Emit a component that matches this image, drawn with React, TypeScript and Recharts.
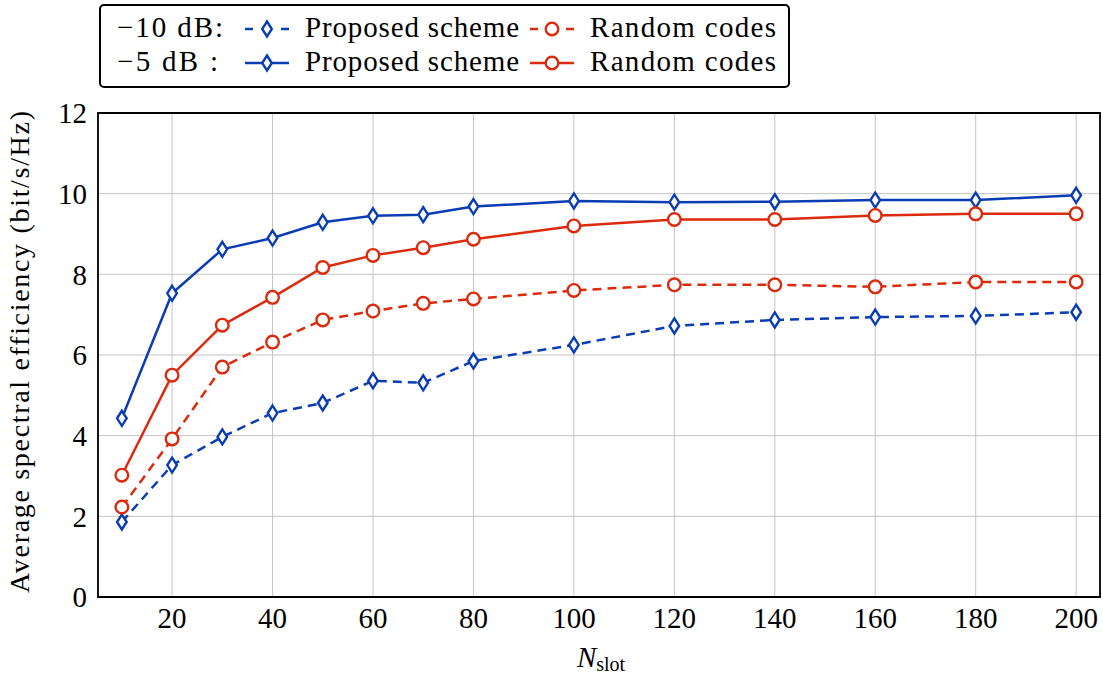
import React from "react";
import { LineChart, Line, XAxis, YAxis, CartesianGrid, ReferenceArea } from "recharts";

const nSlot = [10, 20, 30, 40, 50, 60, 70, 80, 100, 120, 140, 160, 180, 200];
const proposedM10 = [1.86, 3.27, 3.97, 4.56, 4.81, 5.36, 5.31, 5.85, 6.25, 6.72, 6.87, 6.94, 6.97, 7.06];
const randomM10 = [2.23, 3.92, 5.7, 6.32, 6.87, 7.09, 7.28, 7.39, 7.6, 7.74, 7.74, 7.69, 7.81, 7.81];
const proposedM5 = [4.43, 7.53, 8.62, 8.9, 9.29, 9.45, 9.48, 9.68, 9.82, 9.79, 9.8, 9.84, 9.84, 9.96];
const randomM5 = [3.02, 5.5, 6.74, 7.43, 8.17, 8.47, 8.66, 8.87, 9.2, 9.36, 9.36, 9.46, 9.5, 9.5];
const xTicks = [20, 40, 60, 80, 100, 120, 140, 160, 180, 200];
const yTicks = [0, 2, 4, 6, 8, 10, 12];

const data = nSlot.map((n, i) => ({
  n,
  pM10: proposedM10[i],
  rM10: randomM10[i],
  pM5: proposedM5[i],
  rM5: randomM5[i],
}));

const BLUE = "#0a3cb4";
const RED = "#dc2a0c";
const FONT = "'Liberation Serif', 'Times New Roman', serif";

const Diamond = (props: any) => {
  const { cx, cy, stroke } = props;
  if (cx == null || cy == null) return null;
  return (
    <path
      d={`M${cx},${cy - 7.5} L${cx + 4.8},${cy} L${cx},${cy + 7.5} L${cx - 4.8},${cy} Z`}
      fill="#fff"
      stroke={stroke}
      strokeWidth={2.4}
      strokeDasharray="none"
    />
  );
};

const Circ = (props: any) => {
  const { cx, cy, stroke } = props;
  if (cx == null || cy == null) return null;
  return <circle cx={cx} cy={cy} r={6.3} fill="#fff" stroke={stroke} strokeWidth={2.4} strokeDasharray="none" />;
};

const LegendSample = ({ x, y, color, dashed, marker }: any) => {
  const len = 44;
  return (
    <g>
      {dashed ? (
        <>
          <line x1={x} y1={y} x2={x + 8} y2={y} stroke={color} strokeWidth={2.5} />
          <line x1={x + len - 8} y1={y} x2={x + len} y2={y} stroke={color} strokeWidth={2.5} />
        </>
      ) : (
        <line x1={x} y1={y} x2={x + len} y2={y} stroke={color} strokeWidth={2.5} />
      )}
      {marker === "d" ? (
        <Diamond cx={x + len / 2} cy={y} stroke={color} />
      ) : (
        <Circ cx={x + len / 2} cy={y} stroke={color} />
      )}
    </g>
  );
};

export default function App() {
  const fs = 29;
  return (
    <div style={{ position: "absolute", left: 0, top: 0, width: 1103, height: 675, background: "#fff" }}>
      <LineChart
        width={1103}
        height={675}
        data={data}
        margin={{ top: 113, right: 3, bottom: 0, left: 0 }}
      >
        <CartesianGrid stroke="#c4c4c4" strokeWidth={1} />
        <XAxis
          dataKey="n"
          type="number"
          domain={[5.25, 204.75]}
          ticks={xTicks}
          allowDataOverflow
          height={78}
          axisLine={false}
          tickLine={false}
          tickMargin={4}
          tick={{ fill: "#000", fontFamily: FONT, fontSize: 29 }}
        />
        <YAxis
          type="number"
          domain={[0, 12]}
          ticks={yTicks}
          width={98}
          axisLine={false}
          tickLine={false}
          tickMargin={5}
          tick={{ fill: "#000", fontFamily: FONT, fontSize: 29 }}
        />
        <Line dataKey="pM10" stroke={BLUE} strokeWidth={2.5} strokeDasharray="9 6" dot={<Diamond />} isAnimationActive={false} />
        <Line dataKey="rM10" stroke={RED} strokeWidth={2.5} strokeDasharray="9 6" dot={<Circ />} isAnimationActive={false} />
        <Line dataKey="pM5" stroke={BLUE} strokeWidth={2.5} dot={<Diamond />} isAnimationActive={false} />
        <Line dataKey="rM5" stroke={RED} strokeWidth={2.5} dot={<Circ />} isAnimationActive={false} />
        <ReferenceArea x1={5.25} x2={204.75} y1={0} y2={12} fill="none" stroke="#000" strokeWidth={1.8} ifOverflow="visible" />
      </LineChart>
      <svg width={1103} height={675} style={{ position: "absolute", left: 0, top: 0, pointerEvents: "none" }}>
        <text
          transform="translate(29,352) rotate(-90)"
          textAnchor="middle"
          fontFamily={FONT}
          fontSize={28}
          fill="#000"
          textLength={482}
          lengthAdjust="spacing"
        >
          Average spectral efficiency (bit/s/Hz)
        </text>
        <text x={601} y={667} textAnchor="middle" fontFamily={FONT} fill="#000">
          <tspan fontStyle="italic" fontSize={29}>N</tspan>
          <tspan fontSize={20} dy={4}>slot</tspan>
        </text>
        <rect x={100} y={5} width={689} height={82} rx={4} fill="#fff" stroke="#000" strokeWidth={2} />
        <text x={117} y={37} fontFamily={FONT} fontSize={fs} fill="#000" textLength={106} lengthAdjust="spacing">−10 dB:</text>
        <text x={117} y={71} fontFamily={FONT} fontSize={fs} fill="#000" textLength={101} lengthAdjust="spacing">−5 dB  :</text>
        <LegendSample x={245} y={29} color={BLUE} dashed marker="d" />
        <LegendSample x={245} y={63} color={BLUE} marker="d" />
        <text x={305} y={37} fontFamily={FONT} fontSize={fs} fill="#000" textLength={214} lengthAdjust="spacing">Proposed scheme</text>
        <text x={305} y={71} fontFamily={FONT} fontSize={fs} fill="#000" textLength={214} lengthAdjust="spacing">Proposed scheme</text>
        <LegendSample x={530} y={29} color={RED} dashed marker="c" />
        <LegendSample x={530} y={63} color={RED} marker="c" />
        <text x={590} y={37} fontFamily={FONT} fontSize={fs} fill="#000" textLength={186} lengthAdjust="spacing">Random codes</text>
        <text x={590} y={71} fontFamily={FONT} fontSize={fs} fill="#000" textLength={186} lengthAdjust="spacing">Random codes</text>
      </svg>
    </div>
  );
}
